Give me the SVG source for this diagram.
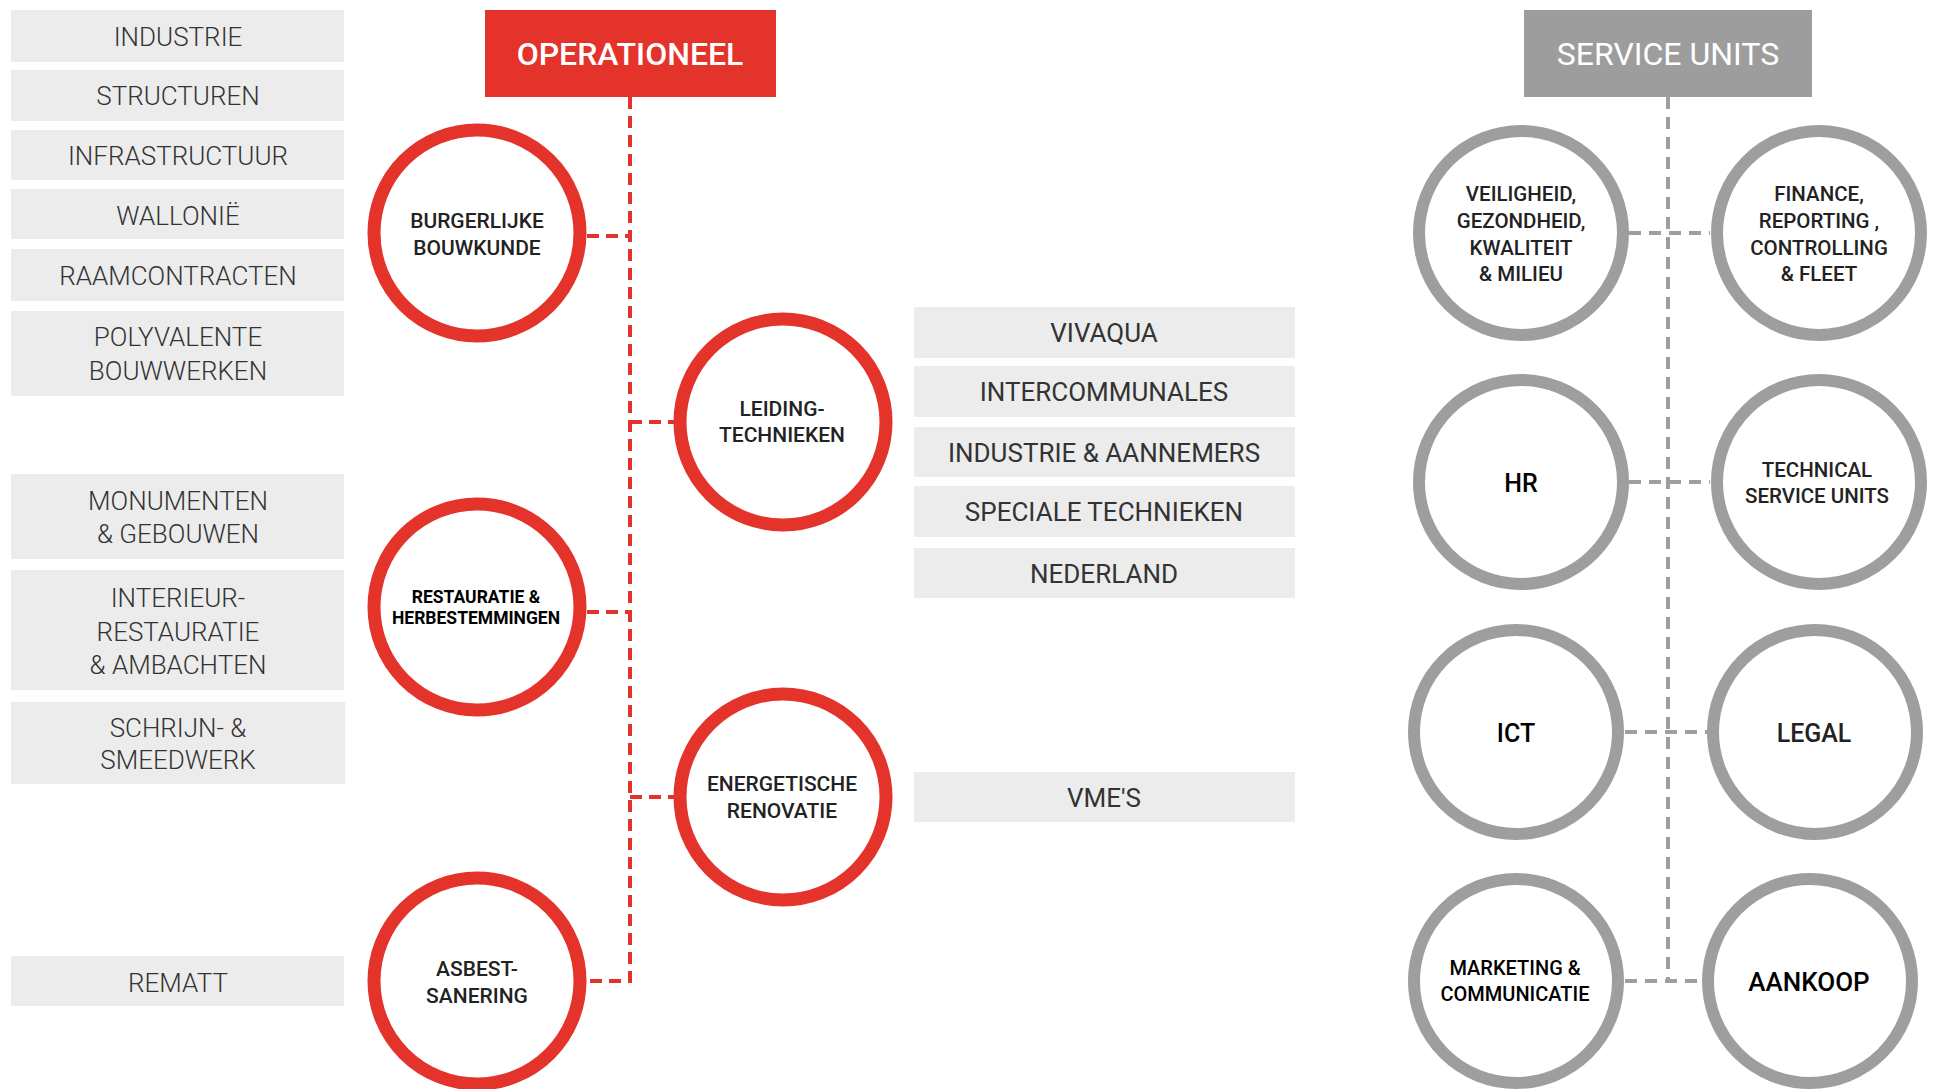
<svg xmlns="http://www.w3.org/2000/svg" width="1934" height="1089" viewBox="0 0 1934 1089">
<style>
.box{fill:#ececec}
.lt{font-family:Roboto,"Liberation Sans",sans-serif;font-weight:300;font-size:26px;fill:#333;text-anchor:middle;dominant-baseline:central}
.mt{font-family:Roboto,"Liberation Sans",sans-serif;font-weight:400;font-size:26px;fill:#333;text-anchor:middle;dominant-baseline:central}
.hd{font-family:Roboto,"Liberation Sans",sans-serif;font-weight:500;font-size:32px;fill:#fff;text-anchor:middle;dominant-baseline:central}
.rc{fill:#fff;stroke:#e3332b;stroke-width:13}
.gc{fill:#fff;stroke:#9e9e9e;stroke-width:12}
.ct{font-family:Roboto,"Liberation Sans",sans-serif;font-weight:500;font-size:21px;fill:#222;text-anchor:middle;dominant-baseline:central}
.rl{fill:none;stroke:#e3332b;stroke-width:4;stroke-dasharray:12 7}
.gl{fill:none;stroke:#9e9e9e;stroke-width:4;stroke-dasharray:12 8}
</style>
<rect width="1934" height="1089" fill="#fff"/>
<g id="connectors">
<path class="rl" d="M630 97 V981 H587"/>
<path class="rl" d="M587 236 H630"/>
<path class="rl" d="M630 422 H675"/>
<path class="rl" d="M587 612 H630"/>
<path class="rl" d="M630 797 H675"/>
<path class="gl" d="M1668 97 V981"/>
<path class="gl" d="M1629 233 H1710"/>
<path class="gl" d="M1629 482 H1710"/>
<path class="gl" d="M1625 732 H1707"/>
<path class="gl" d="M1625 981 H1701"/>
</g>
<g id="left-list">
<g id="l-industrie"><rect class="box" x="11" y="10" width="333" height="52"/><text class="lt" x="178" y="37">INDUSTRIE</text></g>
<g id="l-structuren"><rect class="box" x="11" y="70" width="333" height="51"/><text class="lt" x="178" y="96">STRUCTUREN</text></g>
<g id="l-infra"><rect class="box" x="11" y="130" width="333" height="50"/><text class="lt" x="178" y="156">INFRASTRUCTUUR</text></g>
<g id="l-wallonie"><rect class="box" x="11" y="189" width="333" height="50"/><text class="lt" x="178" y="216">WALLONIË</text></g>
<g id="l-raam"><rect class="box" x="11" y="249" width="333" height="52"/><text class="lt" x="178" y="276">RAAMCONTRACTEN</text></g>
<g id="l-poly"><rect class="box" x="11" y="311" width="333" height="85"/><text class="lt" x="178" y="337">POLYVALENTE</text><text class="lt" x="178" y="371">BOUWWERKEN</text></g>
<g id="l-monu"><rect class="box" x="11" y="474" width="333" height="85"/><text class="lt" x="178" y="501">MONUMENTEN</text><text class="lt" x="178" y="534">&amp; GEBOUWEN</text></g>
<g id="l-interieur"><rect class="box" x="11" y="570" width="333" height="120"/><text class="lt" x="178" y="598">INTERIEUR-</text><text class="lt" x="178" y="632">RESTAURATIE</text><text class="lt" x="178" y="665">&amp; AMBACHTEN</text></g>
<g id="l-schrijn"><rect class="box" x="11" y="702" width="334" height="82"/><text class="lt" x="178" y="728">SCHRIJN- &amp;</text><text class="lt" x="178" y="760">SMEEDWERK</text></g>
<g id="l-rematt"><rect class="box" x="11" y="956" width="333" height="50"/><text class="lt" x="178" y="983">REMATT</text></g>
</g>
<g id="operationeel"><rect x="485" y="10" width="291" height="87" fill="#e3332b"/><text class="hd" x="630" y="54">OPERATIONEEL</text></g>
<g id="burgerlijke"><circle class="rc" cx="477" cy="233" r="103"/><text class="ct" x="477" y="221">BURGERLIJKE</text><text class="ct" x="477" y="248">BOUWKUNDE</text></g>
<g id="leiding"><circle class="rc" cx="783" cy="422" r="103"/><text class="ct" x="782" y="409">LEIDING-</text><text class="ct" x="782" y="435">TECHNIEKEN</text></g>
<g id="restauratie"><circle class="rc" cx="477" cy="607" r="103"/><text class="ct" x="476" y="597" style="font-size:17.5px;font-weight:700;fill:#000">RESTAURATIE &amp;</text><text class="ct" x="476" y="618" style="font-size:17.5px;font-weight:700;fill:#000">HERBESTEMMINGEN</text></g>
<g id="energetische"><circle class="rc" cx="783" cy="797" r="103"/><text class="ct" x="782" y="784">ENERGETISCHE</text><text class="ct" x="782" y="811">RENOVATIE</text></g>
<g id="asbest"><circle class="rc" cx="477" cy="981" r="103"/><text class="ct" x="477" y="969">ASBEST-</text><text class="ct" x="477" y="996">SANERING</text></g>
<g id="mid-list">
<g id="m-vivaqua"><rect class="box" x="914" y="307" width="381" height="51"/><text class="mt" x="1104" y="333">VIVAQUA</text></g>
<g id="m-inter"><rect class="box" x="914" y="366" width="381" height="51"/><text class="mt" x="1104" y="392">INTERCOMMUNALES</text></g>
<g id="m-industrie"><rect class="box" x="914" y="427" width="381" height="50"/><text class="mt" x="1104" y="453">INDUSTRIE &amp; AANNEMERS</text></g>
<g id="m-speciale"><rect class="box" x="914" y="486" width="381" height="51"/><text class="mt" x="1104" y="512">SPECIALE TECHNIEKEN</text></g>
<g id="m-nederland"><rect class="box" x="914" y="548" width="381" height="50"/><text class="mt" x="1104" y="574">NEDERLAND</text></g>
<g id="m-vmes"><rect class="box" x="914" y="772" width="381" height="50"/><text class="mt" x="1104" y="798">VME'S</text></g>
</g>
<g id="service-units"><rect x="1524" y="10" width="288" height="87" fill="#9d9d9d"/><text class="hd" x="1668" y="54" style="font-weight:400">SERVICE UNITS</text></g>
<g id="veiligheid"><circle class="gc" cx="1521" cy="233" r="102"/><text class="ct" x="1521" y="194" style="font-size:20.5px">VEILIGHEID,</text><text class="ct" x="1521" y="221" style="font-size:20.5px">GEZONDHEID,</text><text class="ct" x="1521" y="248" style="font-size:20.5px">KWALITEIT</text><text class="ct" x="1521" y="274" style="font-size:20.5px">&amp; MILIEU</text></g>
<g id="finance"><circle class="gc" cx="1819" cy="233" r="102"/><text class="ct" x="1819" y="194" style="font-size:20.5px">FINANCE,</text><text class="ct" x="1819" y="221" style="font-size:20.5px">REPORTING ,</text><text class="ct" x="1819" y="248" style="font-size:20.5px">CONTROLLING</text><text class="ct" x="1819" y="274" style="font-size:20.5px">&amp; FLEET</text></g>
<g id="hr"><circle class="gc" cx="1521" cy="482" r="102"/><text class="ct" x="1521" y="483" style="font-size:25px;fill:#000">HR</text></g>
<g id="technical"><circle class="gc" cx="1819" cy="482" r="102"/><text class="ct" x="1817" y="470" style="font-size:20.5px">TECHNICAL</text><text class="ct" x="1817" y="496" style="font-size:20.5px">SERVICE UNITS</text></g>
<g id="ict"><circle class="gc" cx="1516" cy="732" r="102"/><text class="ct" x="1516" y="733" style="font-size:25px;fill:#000">ICT</text></g>
<g id="legal"><circle class="gc" cx="1815" cy="732" r="102"/><text class="ct" x="1814" y="733" style="font-size:25px">LEGAL</text></g>
<g id="marketing"><circle class="gc" cx="1516" cy="981" r="102"/><text class="ct" x="1515" y="968" style="font-size:20px;fill:#000">MARKETING &amp;</text><text class="ct" x="1515" y="994" style="font-size:20px;fill:#000">COMMUNICATIE</text></g>
<g id="aankoop"><circle class="gc" cx="1810" cy="981" r="102"/><text class="ct" x="1809" y="982" style="font-size:26px;fill:#000">AANKOOP</text></g>
</svg>
